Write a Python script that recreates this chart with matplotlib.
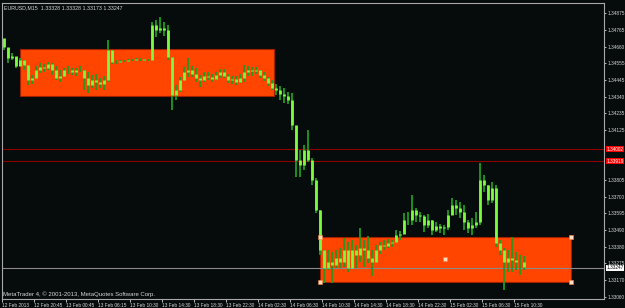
import numpy as np
import matplotlib

matplotlib.use('Agg')
import matplotlib.pyplot as plt
from matplotlib.patches import Rectangle
import matplotlib.transforms as mtransforms

plt.rcParams['font.family'] = ['Liberation Sans', 'DejaVu Sans']

# EURUSD M15 bars (one entry per visible bar pair)
highs = [1.34702, 1.34651, 1.34619, 1.34594, 1.34587, 1.34575, 1.34498, 1.34479, 1.34536, 1.34555,
         1.34549, 1.34562, 1.34555, 1.34536, 1.34511, 1.34524, 1.34536, 1.34524, 1.34524, 1.34536,
         1.34511, 1.34498, 1.34479, 1.34485, 1.34460, 1.34472, 1.34702, 1.34638, 1.34575, 1.34575,
         1.34575, 1.34581, 1.34581, 1.34587, 1.34587, 1.34581, 1.34581, 1.34817, 1.34830, 1.34849,
         1.34817, 1.34798, 1.34594, 1.34415, 1.34466, 1.34530, 1.34587, 1.34536, 1.34524, 1.34479,
         1.34498, 1.34498, 1.34485, 1.34498, 1.34517, 1.34517, 1.34485, 1.34472, 1.34472, 1.34485,
         1.34543, 1.34536, 1.34530, 1.34530, 1.34511, 1.34498, 1.34466, 1.34447, 1.34421, 1.34408,
         1.34396, 1.34370, 1.34364, 1.34127, 1.33999, 1.34031, 1.34127, 1.33948, 1.33821, 1.33616,
         1.33360, 1.33360, 1.33348, 1.33360, 1.33373, 1.33437, 1.33412, 1.33424, 1.33392, 1.33501,
         1.33424, 1.33450, 1.33360, 1.33392, 1.33412, 1.33424, 1.33431, 1.33424, 1.33488, 1.33482,
         1.33597, 1.33603, 1.33712, 1.33629, 1.33603, 1.33584, 1.33591, 1.33552, 1.33539, 1.33527,
         1.33520, 1.33616, 1.33693, 1.33680, 1.33667, 1.33648, 1.33552, 1.33565, 1.33603, 1.33916,
         1.33840, 1.33776, 1.33795, 1.33776, 1.33424, 1.33373, 1.33360, 1.33444, 1.33348, 1.33329,
         1.33322]
lows = [1.34638, 1.34555, 1.34575, 1.34524, 1.34536, 1.34511, 1.34415, 1.34421, 1.34460, 1.34492,
        1.34498, 1.34511, 1.34479, 1.34447, 1.34434, 1.34472, 1.34485, 1.34479, 1.34472, 1.34498,
        1.34383, 1.34364, 1.34396, 1.34383, 1.34396, 1.34383, 1.34434, 1.34549, 1.34549, 1.34555,
        1.34562, 1.34562, 1.34568, 1.34568, 1.34568, 1.34568, 1.34568, 1.34658, 1.34722, 1.34747,
        1.34728, 1.34575, 1.34255, 1.34319, 1.34370, 1.34447, 1.34466, 1.34466, 1.34434, 1.34402,
        1.34434, 1.34447, 1.34434, 1.34447, 1.34460, 1.34460, 1.34428, 1.34421, 1.34415, 1.34428,
        1.34434, 1.34472, 1.34472, 1.34485, 1.34460, 1.34440, 1.34408, 1.34383, 1.34351, 1.34319,
        1.34300, 1.34293, 1.34127, 1.33827, 1.33827, 1.33872, 1.33923, 1.33776, 1.33597, 1.33329,
        1.33150, 1.33233, 1.33150, 1.33246, 1.33246, 1.33252, 1.33220, 1.33284, 1.33246, 1.33284,
        1.33252, 1.33277, 1.33194, 1.33297, 1.33335, 1.33360, 1.33373, 1.33380, 1.33412, 1.33424,
        1.33475, 1.33520, 1.33520, 1.33539, 1.33539, 1.33475, 1.33501, 1.33456, 1.33475, 1.33469,
        1.33456, 1.33488, 1.33584, 1.33584, 1.33565, 1.33488, 1.33469, 1.33456, 1.33501, 1.33520,
        1.33731, 1.33648, 1.33661, 1.33380, 1.33329, 1.33105, 1.33220, 1.33220, 1.33233, 1.33201,
        1.33233]
closes = [1.34658, 1.34587, 1.34600, 1.34536, 1.34575, 1.34543, 1.34447, 1.34460, 1.34511, 1.34530,
          1.34524, 1.34549, 1.34511, 1.34460, 1.34472, 1.34511, 1.34511, 1.34498, 1.34511, 1.34511,
          1.34460, 1.34415, 1.34447, 1.34434, 1.34421, 1.34447, 1.34638, 1.34562, 1.34562, 1.34568,
          1.34568, 1.34575, 1.34575, 1.34581, 1.34581, 1.34575, 1.34575, 1.34798, 1.34766, 1.34779,
          1.34766, 1.34594, 1.34351, 1.34383, 1.34447, 1.34498, 1.34511, 1.34485, 1.34460, 1.34447,
          1.34472, 1.34466, 1.34453, 1.34479, 1.34498, 1.34472, 1.34447, 1.34453, 1.34434, 1.34460,
          1.34498, 1.34511, 1.34504, 1.34511, 1.34479, 1.34460, 1.34428, 1.34396, 1.34383, 1.34357,
          1.34345, 1.34319, 1.34159, 1.33936, 1.33904, 1.33999, 1.33936, 1.33808, 1.33616, 1.33360,
          1.33246, 1.33284, 1.33265, 1.33309, 1.33284, 1.33360, 1.33246, 1.33360, 1.33329, 1.33373,
          1.33360, 1.33309, 1.33284, 1.33360, 1.33392, 1.33386, 1.33405, 1.33412, 1.33456, 1.33463,
          1.33552, 1.33552, 1.33616, 1.33584, 1.33578, 1.33520, 1.33552, 1.33488, 1.33514, 1.33501,
          1.33508, 1.33584, 1.33648, 1.33629, 1.33603, 1.33539, 1.33501, 1.33520, 1.33539, 1.33808,
          1.33776, 1.33680, 1.33757, 1.33405, 1.33360, 1.33284, 1.33309, 1.33297, 1.33284, 1.33284,
          1.33252]
first_open = 1.34715

time_labels = ["12 Feb 2013", "12 Feb 20:45", "13 Feb 00:45", "13 Feb 06:15", "13 Feb 10:30",
               "13 Feb 14:30", "13 Feb 18:30", "13 Feb 22:30", "14 Feb 02:30", "14 Feb 06:30",
               "14 Feb 10:30", "14 Feb 14:30", "14 Feb 18:30", "14 Feb 22:30", "15 Feb 02:30",
               "15 Feb 06:30", "15 Feb 10:30"]
price_ticks = [1.34875, 1.34765, 1.34660, 1.34555, 1.34445, 1.34340, 1.34235, 1.34125,
               1.33805, 1.33700, 1.33595, 1.33490, 1.33380, 1.33275, 1.33170, 1.33060]

# rectangles: (first bar, last bar, top price, bottom price)
rect_upper = (4.0, 67.5, 1.34643, 1.34343)
rect_lower = (79.0, 141.7, 1.33446, 1.33158)
red_levels = [1.34004, 1.33929]
red_texts = ["1.34002", "1.33919"]
bid = 1.33247

BG = '#060b0b'
FG = '#d8d8d8'
FS = 3.4

fig = plt.figure(figsize=(6.25, 3.08), dpi=100, facecolor=BG)
ax = fig.add_axes([2 / 625, 9 / 308, 602 / 625, 296 / 308], facecolor=BG)

x = np.arange(len(closes))
opens = np.array([first_open] + closes[:-1])
closes_a = np.array(closes)

# orange rectangles sit behind the bars
for x0, x1, top, bot in (rect_upper, rect_lower):
    ax.add_patch(Rectangle((x0, bot), x1 - x0, top - bot, facecolor='#ff4500',
                           edgecolor='#a02000', lw=0.8, zorder=1))

for lvl in red_levels:
    ax.axhline(lvl, color='#8b0000', lw=0.8, zorder=2)
ax.axhline(bid, color='#8a8a8a', lw=0.8, zorder=2)

ax.vlines(x, lows, highs, color='#1f9a1f', lw=1.3, zorder=3)
ax.vlines(x, opens, closes_a, color='#7cfc3c', lw=2.0, zorder=4)

# selection handles on the lower rectangle
x0, x1, top, bot = rect_lower
ax.plot([x0, x0, x1, x1, (x0 + x1) / 2], [top, bot, top, bot, (top + bot) / 2], 's',
        ms=2.2, mfc='#ffe0c0', mec='#ff8040', mew=0.4, zorder=5)

ax.set_xlim(-0.5, 150)
ax.set_ylim(1.33047, 1.34939)

ax.set_xticks(np.arange(len(time_labels)) * 8 - 0.5)
ax.set_xticklabels(time_labels, fontsize=FS, color=FG, ha='left')
ax.tick_params(axis='x', colors=FG, length=2.5, width=0.6, pad=0.6)

ax.yaxis.tick_right()
ax.set_yticks(price_ticks)
ax.set_yticklabels([f"{p:.5f}" for p in price_ticks], fontsize=FS, color=FG)
ax.tick_params(axis='y', colors=FG, length=1.5, width=0.6, pad=0.8)

for sp in ax.spines.values():
    sp.set_color('#a8a8a8')
    sp.set_linewidth(0.8)

trans = mtransforms.blended_transform_factory(ax.transAxes, ax.transData)
for lvl, txt in zip(red_levels, red_texts):
    ax.text(1.0035, lvl, txt, transform=trans, fontsize=FS, color='white', va='center', ha='left',
            bbox=dict(boxstyle='square,pad=0.1', fc='#ff0000', ec='none'), clip_on=False)
ax.text(1.0035, bid, f"{bid:.5f}", transform=trans, fontsize=FS, color='black', va='center', ha='left',
        bbox=dict(boxstyle='square,pad=0.1', fc='white', ec='none'), clip_on=False)

ax.text(0.004, 0.992, "EURUSD,M15  1.33328 1.33328 1.33173 1.33247", transform=ax.transAxes,
        fontsize=3.8, color=FG, va='top', ha='left')
ax.text(0.002, 0.008, "MetaTrader 4, \u00a9 2001-2013, MetaQuotes Software Corp.", transform=ax.transAxes,
        fontsize=4.3, color=FG, va='bottom', ha='left')

fig.savefig('out.png', dpi=100, facecolor=BG)
